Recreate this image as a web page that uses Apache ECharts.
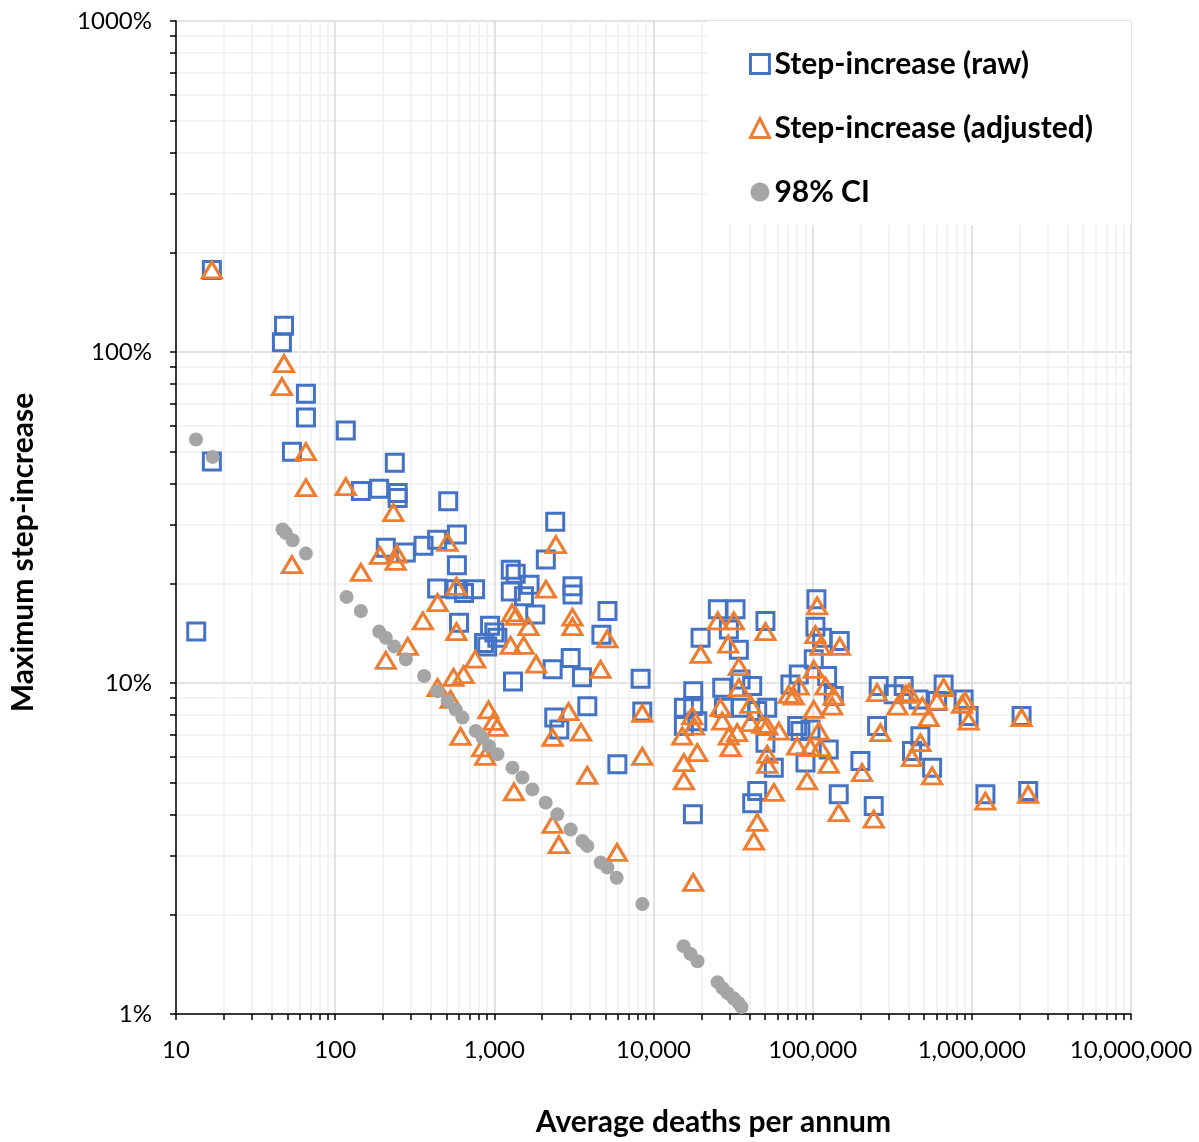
<!DOCTYPE html>
<html>
<head>
<meta charset="utf-8">
<script src="https://cdn.jsdelivr.net/npm/echarts@6/dist/echarts.min.js"></script>
<style>
html,body{margin:0;padding:0;background:#fff;}
#chart{width:1199px;height:1142px;}
</style>
</head>
<body>
<div id="chart"></div>
<script>
// Step-increase (raw): average deaths per annum, max step-increase (%)
const rawX = [16.8,16.8,13.4,47.7,46.3,65.5,65.5,53.5,116.6,145,189,237,247,247,208,278,359,437,513,582,582,437,571,757,645,600,940,1000,861,1045,902,1268,1362,1268,1535,1665,1808,2413,2106,3098,3098,5136,4707,1310,2325,3019,3556,8300,8500,3840,2380,2560,5930,25370,32770,50500,19760,29740,34370,105600,104100,114700,148000,101600,123300,81800,72500,135700,17770,15520,17770,18840,15520,27030,35230,41710,27700,35230,44830,51800,50500,57000,44830,41710,17680,79900,96900,90100,126200,145800,199500,241900,260000,254000,373000,323000,463000,665000,605000,888000,955000,475000,421000,563000,1217000,2054000,2260000,83800];
const rawY = [177,46.7,14.3,120,107,74.8,63.4,50,57.9,38,38.6,46.3,37.5,36.2,25.6,24.8,26,27.1,35.4,28.1,22.7,19.3,19.2,19.2,18.7,15.2,14.9,14.2,13.2,13.7,12.9,22,21.4,18.9,18.3,19.8,16.1,30.7,23.6,19.6,18.5,16.5,14,10.1,11,11.9,10.4,10.3,8.2,8.5,7.86,7.24,5.68,16.7,16.7,15.4,13.7,14.5,12.6,17.9,14.8,13.7,13.4,11.8,10.5,10.6,9.9,9.13,9.45,8.42,8.52,7.67,7.41,9.68,10.25,9.79,8.42,8.42,8.23,8.42,6.6,5.55,4.72,4.33,4.01,7.41,7.24,5.75,6.3,4.61,5.81,4.25,9.79,7.41,9.79,9.24,8.92,9.9,8.82,8.92,7.95,6.91,6.23,5.55,4.61,7.95,4.72,7.16];

// Step-increase (adjusted)
const adjX = [16.8,47.7,46.3,65.5,65.5,53.5,116.6,145,208,191,244,240,232,286,356,440,440,508,578,578,554,641,531,613,759,919,988,1044,838,876,1294,1366,1265,1529,1640,1832,2109,2436,3098,3098,2926,2322,3506,1329,2322,2543,3838,4649,5130,5900,8500,8500,
  106700,25370,31970,50500,19760,29480,34370,104100,111900,148000,101600,120300,81800,76100,70800,135700,132600,101600,34370,40700,26370,27030,17520,17930,15160,18840,15520,15520,29740,33570,30480,40700,48200,51800,61300,51800,51800,79900,109200,96900,111900,126200,92300,57000,44830,42700,17770,145800,204500,254000,266500,241900,341000,404000,384000,489000,665000,605000,868000,910000,536000,955000,475000,421000,563000,1217000,2054000,2260000];
const adjY = [177,92.2,78.6,50,38.9,22.8,39.2,21.6,11.7,24.3,24.5,23.3,32.7,12.9,15.4,17.5,9.68,26.6,19.6,14.3,10.4,10.6,8.92,6.9,11.8,8.3,7.66,7.35,6.37,6.0,16.3,15.9,13.0,13.0,14.8,11.4,19.2,26.2,15.8,14.8,8.2,6.85,7.1,4.69,3.74,3.25,5.26,11.0,13.6,3.08,8.1,6.0,
  17.1,15.4,15.4,14.3,12.2,13.1,11.2,14.0,12.9,12.9,11.0,9.79,9.79,9.13,9.24,9.13,8.52,8.32,9.68,8.62,8.42,7.67,7.95,7.41,6.91,6.16,5.75,5.06,6.91,7.08,6.38,7.59,7.5,7.41,7.16,6.09,5.68,6.45,7.16,6.38,6.38,5.68,5.06,4.67,3.79,3.33,2.5,4.06,5.36,9.35,7.08,3.88,8.52,9.35,9.24,8.52,9.68,8.82,8.62,8.82,7.86,7.67,6.6,5.95,5.24,4.4,7.86,4.61];

// 98% CI
const ciX = [13.35,17.0,46.7,49.0,54.0,65.5,117.9,145,189,208,234.5,278,362,439,508,572,630,764,842,926,1046,1299,1501,1735,2102,2489,3016,3573,3840,4656,5130,5867,8507,15450,17100,18910,25260,27150,29190,31830,34220,35730];
const ciY = [54.4,48.2,29.1,28.4,27.0,24.6,18.2,16.5,14.3,13.7,12.9,11.8,10.5,9.45,8.82,8.32,7.86,7.16,6.84,6.45,6.09,5.55,5.18,4.77,4.35,4.01,3.61,3.33,3.22,2.87,2.77,2.58,2.15,1.603,1.517,1.444,1.248,1.197,1.156,1.116,1.079,1.05];

const seriesNames = ['Step-increase (raw)', 'Step-increase (adjusted)', '98% CI'];
const yTickLabels = {1:'1%', 10:'10%', 100:'100%', 1000:'1000%'};

function zip(xs, ys){ return xs.map((x,i)=>[x, ys[i]]); }

const FONT = 'Lato, "Noto Sans", sans-serif';
const chart = echarts.init(document.getElementById('chart'), null, {renderer:'canvas'});
chart.setOption({
  backgroundColor: '#fff',
  animation: false,
  grid: {left:175, right:68, top:21, bottom:127, containLabel:false},
  legend: {
    orient:'vertical', right:68, top:21,
    backgroundColor:'#fff',
    padding:[28,38,18,42],
    itemGap:34, itemWidth:19, itemHeight:19,
    itemStyle:{borderWidth:3},
    textStyle:{fontFamily:FONT, fontSize:30, fontWeight:'bold', color:'#000'},
    data: seriesNames
  },
  xAxis: {
    type:'log', logBase:10, min:10, max:10000000,
    name:'Average deaths per annum', nameLocation:'middle', nameGap:93,
    nameTextStyle:{fontFamily:FONT, fontSize:30, fontWeight:'bold', color:'#000', padding:[0,0,0,120]},
    axisLine:{show:true, onZero:false, lineStyle:{color:'#000', width:1.5}},
    axisTick:{show:true, inside:false, length:6, lineStyle:{color:'#000', width:1.5}},
    minorTick:{show:true, splitNumber:9, length:6, lineStyle:{color:'#000', width:1.5}},
    axisLabel:{fontFamily:FONT, fontSize:24, color:'#000', margin:24,
      formatter: v => Number(v).toLocaleString('en-US')},
    splitLine:{show:true, lineStyle:{color:'#d9d9d9', width:1.5}},
    minorSplitLine:{show:true, lineStyle:{color:'#f0f0f0', width:1.5}}
  },
  yAxis: {
    type:'log', logBase:10, min:1, max:1000,
    name:'Maximum step-increase', nameLocation:'middle', nameGap:138, nameRotate:90,
    nameTextStyle:{fontFamily:FONT, fontSize:30, fontWeight:'bold', color:'#000', padding:[0,70,0,0]},
    axisLine:{show:true, onZero:false, lineStyle:{color:'#000', width:1.5}},
    axisTick:{show:true, inside:false, length:6, lineStyle:{color:'#000', width:1.5}},
    minorTick:{show:true, splitNumber:9, length:6, lineStyle:{color:'#000', width:1.5}},
    axisLabel:{fontFamily:FONT, fontSize:24, color:'#000', margin:24,
      formatter: v => yTickLabels[Math.round(v)] || (v + '%')},
    splitLine:{show:true, lineStyle:{color:'#d9d9d9', width:1.5}},
    minorSplitLine:{show:true, lineStyle:{color:'#f0f0f0', width:1.5}}
  },
  series: [
    {name:seriesNames[0], type:'scatter', symbol:'rect', symbolSize:17,
     itemStyle:{color:'rgba(255,255,255,0)', borderColor:'#4472C4', borderWidth:3, opacity:1},
     data: zip(rawX, rawY)},
    {name:seriesNames[1], type:'scatter', symbol:'triangle', symbolSize:[19,16],
     itemStyle:{color:'rgba(255,255,255,0)', borderColor:'#ED7D31', borderWidth:3, opacity:1},
     data: zip(adjX, adjY)},
    {name:seriesNames[2], type:'scatter', symbol:'circle', symbolSize:14,
     itemStyle:{color:'#A5A5A5', borderWidth:0, opacity:1},
     data: zip(ciX, ciY)}
  ]
});
</script>
</body>
</html>
